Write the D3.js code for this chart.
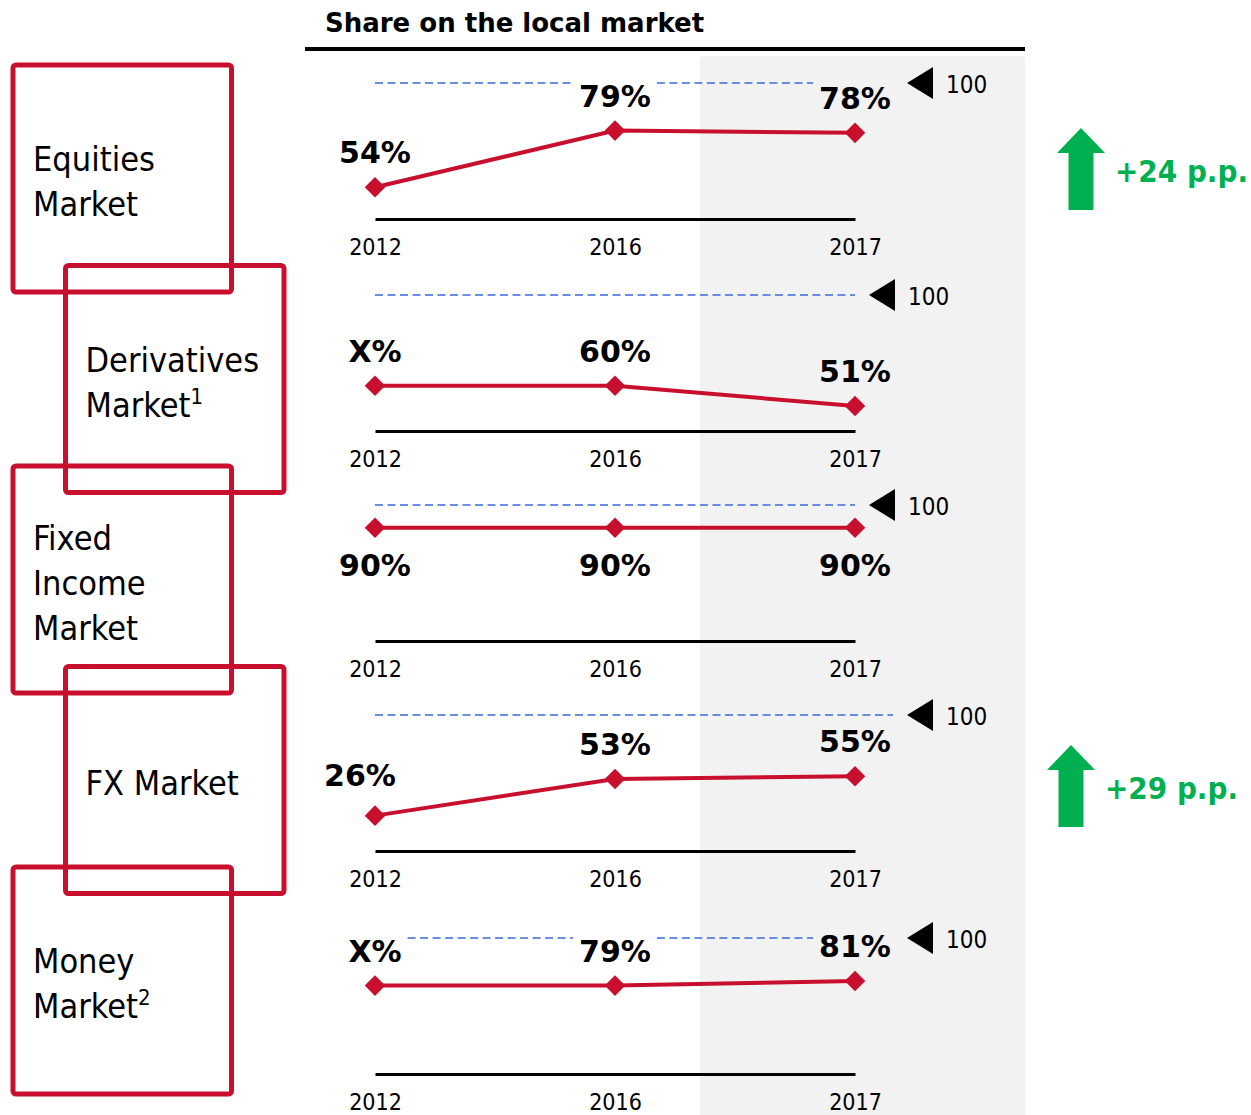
<!DOCTYPE html>
<html>
<head>
<meta charset="utf-8">
<script src="https://cdn.jsdelivr.net/npm/d3@7"></script>
<style>
  body { margin: 0; background: #fff; }
</style>
</head>
<body>
<div id="chart"></div>
<script>
// ---- data ----
const years = ["2012", "2016", "2017"];
const marketLines = [["Equities", "Market"], ["Derivatives", "Market"], ["Fixed", "Income", "Market"], ["FX Market"], ["Money", "Market"]];
const footnotes = [null, "1", null, null, "2"];
const shareValues = [[54, 79, 78], [60, 60, 51], [90, 90, 90], [26, 53, 55], [79, 79, 81]];
const shareLabels = [["54%", "79%", "78%"], ["X%", "60%", "51%"], ["90%", "90%", "90%"], ["26%", "53%", "55%"], ["X%", "79%", "81%"]];
const axisMin = [40, 40, 40, 0, 40];
const refValue = 100;
const showChange = [true, false, false, true, false];
const title = "Share on the local market";

// ---- layout ----
const W = 1251, H = 1115;
const red = "#c8102e", green = "#00b050", blue = "#3b6bd6";
const fReg = "'DejaVu Sans Condensed', 'DejaVu Sans', sans-serif";
const fBold = "'DejaVu Sans', sans-serif";
const panelTop = [83, 295, 505, 715, 938];
const panelH = 136;
const refExtra = [38, 0, 0, 38, 38];
const labelBelow = [false, false, true, false, false];
const arrowPos = [{ x: 1081, top: 128 }, null, null, { x: 1071, top: 745 }, null];

const svg = d3.select("#chart").append("svg")
    .attr("width", W)
    .attr("height", H);

const x = d3.scalePoint().domain(years).range([375, 855]);

// grey highlight for latest year
svg.append("rect")
    .attr("x", 700).attr("y", 56)
    .attr("width", 325).attr("height", H)
    .attr("rx", 4)
    .attr("fill", "#f2f2f2");

// title
svg.append("text")
    .attr("x", 325).attr("y", 32)
    .style("font-family", fBold)
    .style("font-weight", "bold")
    .style("font-size", "26px")
    .text(title);

svg.append("line")
    .attr("x1", 305).attr("x2", 1025)
    .attr("y1", 49).attr("y2", 49)
    .attr("stroke", "#000").attr("stroke-width", 4);

// left boxes
marketLines.forEach((lines, i) => {
    const bx = i % 2 === 0 ? 13 : 65.5;
    const by = 65 + i * 200.5;
    const bw = 218.5, bh = 227;
    svg.append("rect")
        .attr("x", bx).attr("y", by)
        .attr("width", bw).attr("height", bh)
        .attr("rx", 3)
        .attr("fill", "none")
        .attr("stroke", red)
        .attr("stroke-width", 5);

    const cy = by + bh / 2;
    const t = svg.append("text")
        .style("font-family", fReg)
        .style("font-size", "34px")
        .attr("fill", "#000");
    lines.forEach((ln, j) => {
        t.append("tspan")
            .attr("x", bx + 20)
            .attr("y", cy + 15 - (lines.length - 1) * 22.5 + j * 45)
            .text(ln);
        if (j === lines.length - 1 && footnotes[i]) {
            t.append("tspan")
                .attr("dy", -13)
                .style("font-size", "22px")
                .text(footnotes[i]);
        }
    });
});

// panels
shareValues.forEach((vals, i) => {
    const top = panelTop[i];
    const y = d3.scaleLinear().domain([axisMin[i], refValue]).range([top + panelH, top]);
    const g = svg.append("g");
    const pts = vals.map((v, j) => ({ year: years[j], value: v, label: shareLabels[i][j] }));

    // axis baseline + year labels
    const axis = d3.axisBottom(x).tickSize(0).tickPadding(0);
    const ag = g.append("g")
        .attr("transform", `translate(0,${y(axisMin[i])})`)
        .call(axis);
    ag.select(".domain").attr("stroke", "#000").attr("stroke-width", 3);
    ag.selectAll("text")
        .attr("dy", null)
        .attr("y", 36)
        .style("font-family", fReg)
        .style("font-size", "23px")
        .attr("fill", "#000");

    // value labels
    const labels = g.selectAll(".val")
        .data(pts)
        .enter()
        .append("text")
        .attr("class", "val")
        .attr("x", (d, j) => x(d.year) + (i === 3 && j === 0 ? -15 : 0))
        .attr("y", (d, j) => y(d.value) + (labelBelow[i] ? 48 : (i === 3 && j === 0 ? -30 : -24)))
        .attr("text-anchor", "middle")
        .style("font-family", fBold)
        .style("font-weight", "bold")
        .style("font-size", "30px")
        .text(d => d.label);

    // reference (100) dashed line, broken around labels
    const ry = y(refValue);
    const x0 = x(years[0]), x1 = x(years[years.length - 1]) + refExtra[i];
    let cuts = [];
    labels.each(function() {
        const b = this.getBBox();
        if (b.y < ry && b.y + b.height > ry) cuts.push([b.x - 6, b.x + b.width + 6]);
    });
    cuts.sort((a, b) => a[0] - b[0]);
    let segs = [], cur = x0;
    cuts.forEach(c => {
        if (c[0] > cur) segs.push([cur, Math.min(c[0], x1)]);
        cur = Math.max(cur, c[1]);
    });
    if (cur < x1) segs.push([cur, x1]);
    g.selectAll(".ref")
        .data(segs)
        .enter()
        .append("line")
        .attr("x1", d => d[0]).attr("x2", d => d[1])
        .attr("y1", ry).attr("y2", ry)
        .attr("stroke", blue)
        .attr("stroke-width", 1.6)
        .attr("stroke-dasharray", "8,4.5");
    labels.raise();

    // marker "◀ 100"
    const tx = x1 + 14;
    g.append("path")
        .attr("d", `M${tx},${ry} L${tx + 26},${ry - 16} L${tx + 26},${ry + 16} Z`)
        .attr("fill", "#000");
    g.append("text")
        .attr("x", tx + 39).attr("y", ry + 10)
        .style("font-family", fReg)
        .style("font-size", "24px")
        .text(refValue);

    // line + diamonds
    const line = d3.line().x(d => x(d.year)).y(d => y(d.value));
    g.append("path")
        .datum(pts)
        .attr("d", line)
        .attr("fill", "none")
        .attr("stroke", red)
        .attr("stroke-width", 4);
    g.selectAll(".pt")
        .data(pts)
        .enter()
        .append("path")
        .attr("class", "pt")
        .attr("d", d3.symbol(d3.symbolDiamond2, 270))
        .attr("transform", d => `translate(${x(d.year)},${y(d.value)})`)
        .attr("fill", red);

    // change arrow
    if (showChange[i]) {
        const a = arrowPos[i];
        const hw = 24, sw = 12.5, hh = 25, len = 82;
        g.append("path")
            .attr("d", `M${a.x},${a.top} L${a.x + hw},${a.top + hh} L${a.x + sw},${a.top + hh} L${a.x + sw},${a.top + len} L${a.x - sw},${a.top + len} L${a.x - sw},${a.top + hh} L${a.x - hw},${a.top + hh} Z`)
            .attr("fill", green);
        const delta = vals[vals.length - 1] - vals[0];
        g.append("text")
            .attr("x", a.x + 34).attr("y", a.top + 54)
            .style("font-family", fReg)
            .style("font-weight", "bold")
            .style("font-size", "31px")
            .attr("fill", green)
            .text(`+${delta} p.p.`);
    }
});
</script>
</body>
</html>
